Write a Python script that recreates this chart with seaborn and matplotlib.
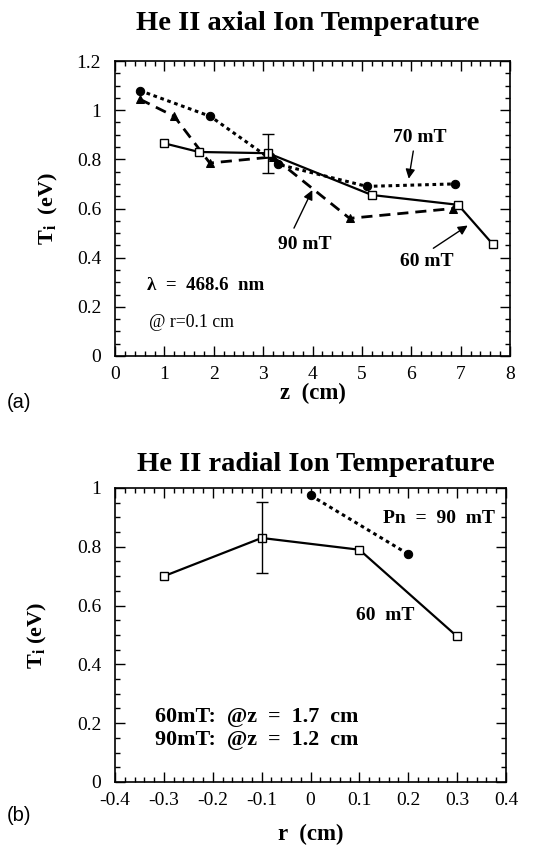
import matplotlib
matplotlib.use("Agg")
import matplotlib.pyplot as plt
import seaborn as sns
import pandas as pd
from matplotlib.ticker import MultipleLocator

# ---- data: axial (panel a) ----
z_60 = [1.0, 1.7, 3.1, 5.2, 6.95, 7.65]
T_60 = [0.865, 0.83, 0.825, 0.655, 0.615, 0.455]
z_70 = [0.5, 1.93, 3.3, 5.1, 6.88]
T_70 = [1.08, 0.975, 0.78, 0.69, 0.70]
z_90 = [0.5, 1.2, 1.92, 3.2, 4.75, 6.85]
T_90 = [1.045, 0.975, 0.785, 0.81, 0.56, 0.60]
err_z = [3.1]
err_T = [0.825]
err_lo = [0.745]
err_hi = [0.905]
z_ticks = [0, 1, 2, 3, 4, 5, 6, 7, 8]
Ta_ticks = [0, 0.2, 0.4, 0.6, 0.8, 1.0, 1.2]
Ta_labels = ['0', '0.2', '0.4', '0.6', '0.8', '1', '1.2']

# ---- data: radial (panel b) ----
r_60 = [-0.3, -0.1, 0.1, 0.3]
Tr_60 = [0.70, 0.83, 0.79, 0.495]
r_90 = [0.0, 0.2]
Tr_90 = [0.975, 0.775]
errr_r = [-0.1]
errr_T = [0.83]
errr_lo = [0.71]
errr_hi = [0.952]
r_ticks = [-0.4, -0.3, -0.2, -0.1, 0, 0.1, 0.2, 0.3, 0.4]
r_labels = ['-0.4', '-0.3', '-0.2', '-0.1', '0', '0.1', '0.2', '0.3', '0.4']
Tb_ticks = [0, 0.2, 0.4, 0.6, 0.8, 1.0]
Tb_labels = ['0', '0.2', '0.4', '0.6', '0.8', '1']

sns.set_theme(style="white")
plt.rcParams['font.family'] = ['Liberation Serif', 'DejaVu Serif']
plt.rcParams['mathtext.fontset'] = 'custom'
plt.rcParams['mathtext.rm'] = 'Liberation Serif'
plt.rcParams['mathtext.bf'] = 'Liberation Serif:bold'
plt.rcParams['mathtext.it'] = 'Liberation Serif:italic'
plt.rcParams['text.color'] = 'black'
plt.rcParams['axes.labelcolor'] = 'black'
plt.rcParams['xtick.color'] = 'black'
plt.rcParams['ytick.color'] = 'black'

fig = plt.figure(figsize=(5.49, 8.5), dpi=100)
ax1 = fig.add_axes([0.2095, 0.5812, 0.7195, 0.347])
ax2 = fig.add_axes([0.2095, 0.08, 0.7122, 0.3459])

dot = (0, (1.2, 1.2))
dash = (0, (4, 2.5))

def style_axes(ax):
    for s in ax.spines.values():
        s.set_color('black')
        s.set_linewidth(1.2)
    ax.tick_params(which='both', direction='in', top=True, right=True,
                   bottom=True, left=True, colors='black', labelsize=14)
    ax.tick_params(axis='x', pad=7)
    ax.tick_params(axis='y', pad=10)
    ax.tick_params(which='major', length=7, width=1)
    ax.tick_params(which='minor', length=3.5, width=1)
    ax.grid(False)

# ---- panel a ----
d60 = pd.DataFrame({'z': z_60, 'T': T_60})
d70 = pd.DataFrame({'z': z_70, 'T': T_70})
d90 = pd.DataFrame({'z': z_90, 'T': T_90})
sns.lineplot(data=d70, x='z', y='T', ax=ax1, sort=False, color='black',
             linestyle=dot, linewidth=2.2, marker='o', markersize=6,
             markerfacecolor='black', markeredgecolor='black')
sns.lineplot(data=d90, x='z', y='T', ax=ax1, sort=False, color='black',
             linestyle=dash, linewidth=2.0, marker='^', markersize=6,
             markerfacecolor='black', markeredgecolor='black')
sns.lineplot(data=d60, x='z', y='T', ax=ax1, sort=False, color='black',
             linestyle='-', linewidth=1.6, marker='s', markersize=6,
             markerfacecolor='white', markeredgecolor='black', markeredgewidth=1)
ax1.errorbar(err_z, err_T,
             yerr=[[err_T[0] - err_lo[0]], [err_hi[0] - err_T[0]]],
             fmt='none', ecolor='black', elinewidth=1, capsize=4)
ax1.set_xlim(0, 8)
ax1.set_ylim(0, 1.2)
ax1.set_xticks(z_ticks)
ax1.set_xticklabels([str(v) for v in z_ticks])
ax1.xaxis.set_minor_locator(MultipleLocator(0.2))
ax1.set_yticks(Ta_ticks)
ax1.set_yticklabels(Ta_labels)
ax1.yaxis.set_minor_locator(MultipleLocator(0.05))
style_axes(ax1)
ax1.set_xlabel('z  (cm)', fontsize=16.5, fontweight='bold', labelpad=0)
ax1.set_ylabel(r'$\mathbf{T}_{\mathbf{i}}$  (eV)', fontsize=16, fontweight='bold', labelpad=12)
fig.text(0.56, 0.972, 'He II axial Ion Temperature', ha='center', va='center',
         fontsize=20.5, fontweight='bold')

ann = dict(fontsize=14, fontweight='bold', ha='center', va='center')
arw = dict(arrowstyle='-|>', color='black', lw=1, mutation_scale=14)
ax1.text(6.18, 0.89, '70 mT', **ann)
ax1.annotate('', xy=(5.94, 0.71), xytext=(6.05, 0.845), arrowprops=arw)
ax1.text(3.85, 0.452, '90 mT', **ann)
ax1.annotate('', xy=(4.02, 0.685), xytext=(3.6, 0.51), arrowprops=arw)
ax1.text(6.31, 0.385, '60 mT', **ann)
ax1.annotate('', xy=(7.19, 0.537), xytext=(6.4, 0.432), arrowprops=arw)
ax1.text(0.64, 0.285, r'λ  =  468.6  nm', fontsize=13.6, fontweight='bold',
         ha='left', va='center')
ax1.text(0.68, 0.135, '@ r=0.1 cm', fontsize=12.8, ha='left', va='center')
fig.text(0.012, 0.527, '(a)', fontsize=14.5, family='Liberation Sans', ha='left', va='center')

# ---- panel b ----
e60 = pd.DataFrame({'r': r_60, 'T': Tr_60})
e90 = pd.DataFrame({'r': r_90, 'T': Tr_90})
sns.lineplot(data=e90, x='r', y='T', ax=ax2, sort=False, color='black',
             linestyle=dot, linewidth=2.2, marker='o', markersize=6,
             markerfacecolor='black', markeredgecolor='black')
sns.lineplot(data=e60, x='r', y='T', ax=ax2, sort=False, color='black',
             linestyle='-', linewidth=1.6, marker='s', markersize=6,
             markerfacecolor='white', markeredgecolor='black', markeredgewidth=1)
ax2.errorbar(errr_r, errr_T,
             yerr=[[errr_T[0] - errr_lo[0]], [errr_hi[0] - errr_T[0]]],
             fmt='none', ecolor='black', elinewidth=1, capsize=4)
ax2.set_xlim(-0.4, 0.4)
ax2.set_ylim(0, 1.0)
ax2.set_xticks(r_ticks)
ax2.set_xticklabels(r_labels)
ax2.xaxis.set_minor_locator(MultipleLocator(0.02))
ax2.set_yticks(Tb_ticks)
ax2.set_yticklabels(Tb_labels)
ax2.yaxis.set_minor_locator(MultipleLocator(0.05))
style_axes(ax2)
ax2.set_xlabel('r  (cm)', fontsize=16.5, fontweight='bold', labelpad=11)
ax2.set_ylabel(r'$\mathbf{T}_{\mathbf{i}}$ (eV)', fontsize=16, fontweight='bold', labelpad=20)
fig.text(0.575, 0.454, 'He II radial Ion Temperature', ha='center', va='center',
         fontsize=20.5, fontweight='bold')
ax2.text(0.262, 0.895, 'Pn  =  90  mT', **ann)
ax2.text(0.152, 0.567, '60  mT', **ann)
ax2.text(-0.318, 0.222, '60mT:  @z  =  1.7  cm', fontsize=15.8, fontweight='bold',
         ha='left', va='center')
ax2.text(-0.318, 0.142, '90mT:  @z  =  1.2  cm', fontsize=15.8, fontweight='bold',
         ha='left', va='center')
fig.text(0.012, 0.041, '(b)', fontsize=14.5, family='Liberation Sans', ha='left', va='center')

fig.savefig('out.png', dpi=100, facecolor='white')
